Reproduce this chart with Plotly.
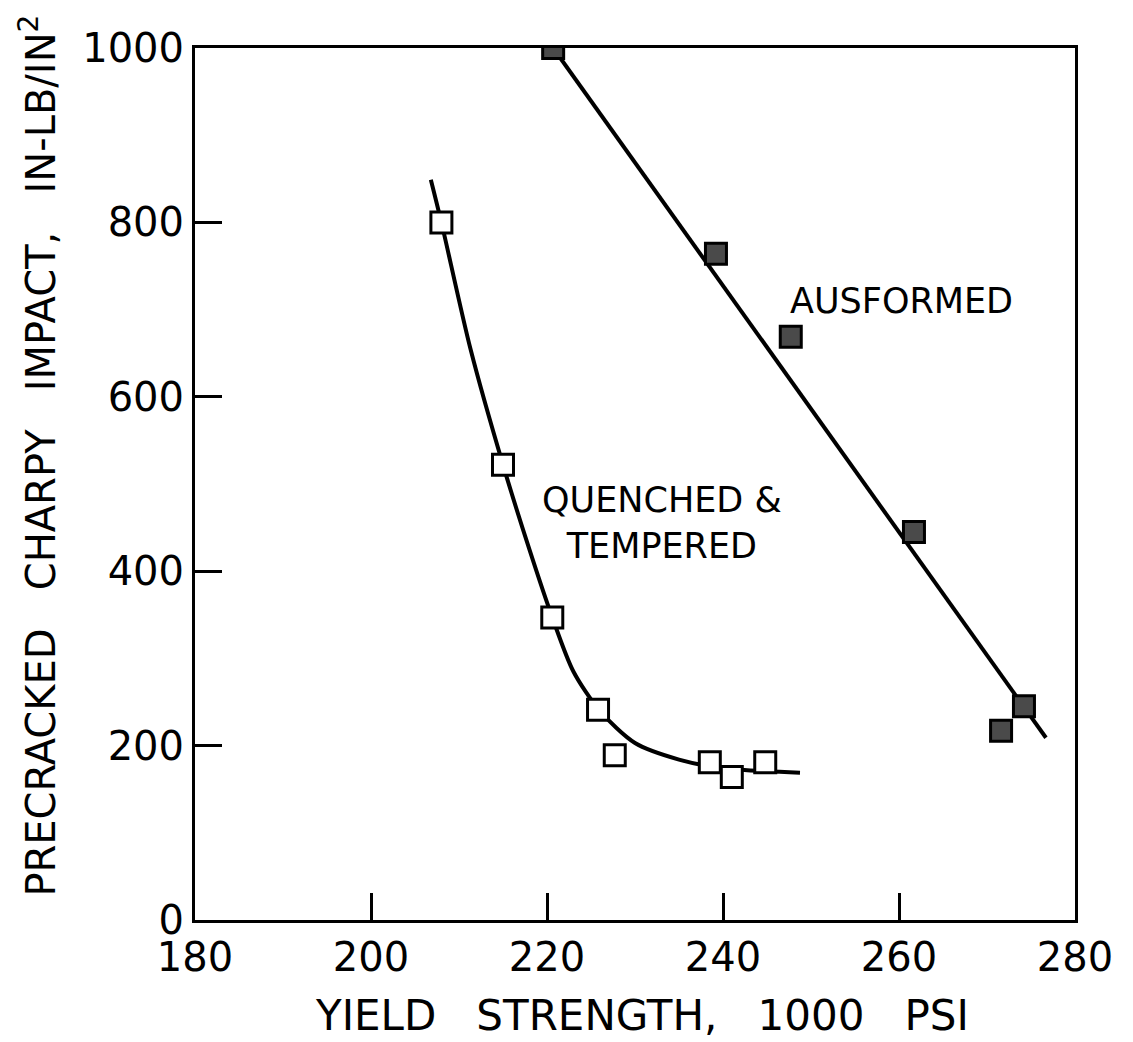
import plotly.graph_objects as go

# Ausformed data (filled squares)
aus_x = [220.7, 239.2, 247.7, 261.7, 274.2, 271.6]
aus_y = [1000, 764, 669, 445, 245, 217]
aus_line_x = [220.7, 276.7]
aus_line_y = [1000, 209]

# Quenched & tempered data (open squares)
qt_x = [208.0, 215.0, 220.6, 225.8, 227.7, 238.5, 241.0, 244.8]
qt_y = [800, 522, 347, 241, 189, 181, 164, 181]
# Quenched & tempered curve
qt_curve_x = [206.8, 208.0, 211.3, 215.0, 218.0, 220.6, 223.0, 226.0, 230.0, 235.0, 240.0, 248.75]
qt_curve_y = [849, 800, 655, 522, 425, 347, 285, 240, 203, 184, 174, 169]

x_ticks = [180, 200, 220, 240, 260, 280]
y_ticks = [0, 200, 400, 600, 800, 1000]

FONT = "DejaVu Sans"
SP = "&nbsp;&nbsp;&nbsp;"

fig = go.Figure()
fig.add_trace(go.Scatter(x=aus_line_x, y=aus_line_y, mode="lines",
                         line=dict(color="black", width=4), showlegend=False))
fig.add_trace(go.Scatter(x=qt_curve_x, y=qt_curve_y, mode="lines",
                         line=dict(color="black", width=4, shape="spline", smoothing=0.8),
                         showlegend=False))
fig.add_trace(go.Scatter(x=qt_x, y=qt_y, mode="markers",
                         marker=dict(symbol="square", size=21, color="white",
                                     line=dict(color="black", width=3)),
                         showlegend=False))
fig.add_trace(go.Scatter(x=aus_x, y=aus_y, mode="markers",
                         marker=dict(symbol="square", size=21, color="#4a4a4a",
                                     line=dict(color="black", width=3)),
                         showlegend=False))

fig.add_annotation(x=260.3, y=710, text="AUSFORMED", showarrow=False,
                   font=dict(family=FONT, size=35, color="black"))
fig.add_annotation(x=233.1, y=455, text="QUENCHED &amp;<br>TEMPERED", showarrow=False,
                   font=dict(family=FONT, size=35, color="black"), align="center")

# axis titles
fig.add_annotation(xref="paper", yref="paper", x=0.508, y=-0.109,
                   text="YIELD" + SP + "STRENGTH," + SP + "1000" + SP + "PSI",
                   showarrow=False, xanchor="center", yanchor="middle",
                   font=dict(family=FONT, size=42, color="black"))
fig.add_annotation(xref="paper", yref="paper", x=-0.178, y=0.533,
                   text="PRECRACKED" + SP + "CHARPY" + SP + "IMPACT," + SP + "IN-LB/IN<sup>2</sup>",
                   textangle=-90, showarrow=False, xanchor="center", yanchor="middle",
                   font=dict(family=FONT, size=40, color="black"))

fig.update_xaxes(range=[180, 280], tickvals=x_ticks, ticktext=[str(v) for v in x_ticks],
                 ticks="inside", ticklen=27, tickwidth=3, tickcolor="black",
                 showline=True, linecolor="black", linewidth=3, mirror=True,
                 showgrid=False, zeroline=False, automargin=False,
                 tickfont=dict(family=FONT, size=40, color="black"))
fig.update_yaxes(range=[0, 1000], tickvals=y_ticks, ticktext=[str(v) for v in y_ticks],
                 ticks="inside", ticklen=27, tickwidth=3, tickcolor="black",
                 showline=True, linecolor="black", linewidth=3, mirror=True,
                 showgrid=False, zeroline=False, automargin=False,
                 tickfont=dict(family=FONT, size=40, color="black"))

fig.update_layout(width=1133, height=1042, plot_bgcolor="white", paper_bgcolor="white",
                  margin=dict(l=187, r=66, t=40, b=130, autoexpand=False), showlegend=False)

fig.write_html("out.html")
